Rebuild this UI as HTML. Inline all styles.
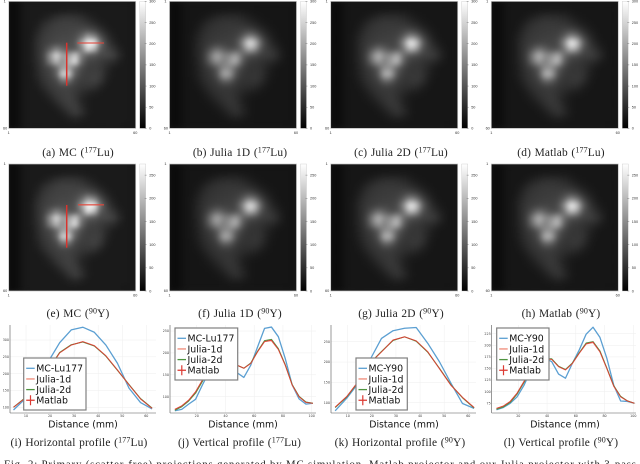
<!DOCTYPE html>
<html lang="en">
<head>
<meta charset="utf-8">
<title>Projection figure</title>
<style>
html,body{margin:0;padding:0;background:#fff;}
body{width:640px;height:464px;overflow:hidden;position:relative;}
#stage{position:absolute;left:0;top:0;width:640px;height:464px;filter:blur(0.3px);}
svg{position:absolute;left:0;top:0;}
.cap{position:absolute;font-family:"Liberation Serif",serif;font-size:11.4px;line-height:12px;color:#222;white-space:nowrap;transform:translateX(-50%);letter-spacing:.15px;word-spacing:.6px;}
.cap sup{font-size:8px;vertical-align:3.5px;line-height:0;}
</style>
</head>
<body>
<div id="stage">
<svg id="fig" width="640" height="464" viewBox="0 0 640 464" xmlns="http://www.w3.org/2000/svg"></svg>
<div class="cap" style="left:78px;top:147px">(a) MC (<sup>177</sup>Lu)</div>
<div class="cap" style="left:240px;top:147px">(b) Julia 1D (<sup>177</sup>Lu)</div>
<div class="cap" style="left:401px;top:147px">(c) Julia 2D (<sup>177</sup>Lu)</div>
<div class="cap" style="left:561px;top:147px">(d) Matlab (<sup>177</sup>Lu)</div>
<div class="cap" style="left:78px;top:308px">(e) MC (<sup>90</sup>Y)</div>
<div class="cap" style="left:240px;top:308px">(f) Julia 1D (<sup>90</sup>Y)</div>
<div class="cap" style="left:401px;top:308px">(g) Julia 2D (<sup>90</sup>Y)</div>
<div class="cap" style="left:561px;top:308px">(h) Matlab (<sup>90</sup>Y)</div>
<div class="cap" style="left:79px;top:437px">(i) Horizontal profile (<sup>177</sup>Lu)</div>
<div class="cap" style="left:239.5px;top:437px">(j) Vertical profile (<sup>177</sup>Lu)</div>
<div class="cap" style="left:400px;top:437px">(k) Horizontal profile (<sup>90</sup>Y)</div>
<div class="cap" style="left:561px;top:437px">(l) Vertical profile (<sup>90</sup>Y)</div>
</div>
<script>
// ---- projection image data (coarse 20x20 reading of the picture, counts) ----
const projectionCells = [
[12,18,28,30,30,30,30,30,30,30,30,30,30,30,30,30,30,30,30,28],
[12,18,28,30,30,30,30,32,34,35,35,34,32,30,30,30,30,30,30,28],
[12,18,28,30,30,34,44,54,60,62,60,54,44,35,31,30,30,30,30,28],
[12,18,28,30,34,50,64,72,75,76,74,70,62,50,38,32,30,30,30,28],
[12,18,28,30,42,62,72,76,78,80,82,88,92,80,58,40,32,30,30,28],
[12,18,28,32,50,68,76,80,82,84,90,120,180,155,90,56,36,30,30,28],
[12,18,28,34,55,72,80,86,88,88,100,190,345,290,130,72,46,32,30,28],
[12,18,28,34,55,76,110,150,125,100,105,150,265,220,105,82,62,40,30,28],
[12,18,28,34,55,82,170,255,190,190,240,145,110,100,85,85,75,48,30,28],
[12,18,28,34,52,78,150,215,165,215,265,125,80,76,68,60,52,36,30,28],
[12,18,28,32,48,70,85,120,190,190,130,88,72,72,66,48,34,30,30,28],
[12,18,28,32,46,66,78,110,255,240,110,78,72,76,68,44,32,30,30,28],
[12,18,28,30,40,60,72,85,140,130,84,70,72,76,62,38,30,30,30,28],
[12,18,28,30,34,50,66,74,80,80,72,64,62,58,42,32,30,30,30,28],
[12,18,28,30,30,38,54,68,74,76,66,52,42,36,32,30,30,30,30,28],
[12,18,28,30,30,32,40,56,70,76,66,44,34,30,30,30,30,30,30,28],
[12,18,28,30,30,30,32,40,58,72,72,50,34,30,30,30,30,30,30,28],
[12,18,28,30,30,30,30,32,40,58,70,56,36,30,30,30,30,30,30,28],
[12,18,28,30,30,30,30,30,32,38,44,38,32,30,30,30,30,30,30,28],
[12,18,28,30,30,30,30,30,30,30,30,30,30,30,30,30,30,30,28,28]
];
const panelKeys = ['a','b','c','d','e','f','g','h'];
const panelIntensity = [1.0,0.84,0.88,0.88,1.0,0.84,0.88,0.88];
const panelSmoothing = [2.6,3.4,3.2,3.2,2.6,3.4,3.2,3.2];
const colorbarTicksTop = [0,50,100,150,200,250,300];
const colorbarTicksBottom = [0,50,100,150,200,250];
const imageAxisLabels = ['1','60'];

// ---- profile data ----
const horizontalDistance = [4.8,9.6,14.4,19.2,24,28.8,33.6,38.4,43.2,48,52.8,57.6,62.4];
const verticalDistance = [4.8,9.6,14.4,19.2,24,28.8,33.6,38.4,43.2,48,52.8,57.6,62.4,67.2,72,76.8,81.6,86.4,91.2,96,100.8];

const luHorizontalMC = [92,125,175,235,292,330,338,323,285,231,157,114,95];
const luHorizontalJ1 = [100,127,165,210,262,285,295,283,253,211,167,125,97];
const luHorizontalJ2 = [100,128,166,212,263,286,294,282,252,210,168,126,98];
const luHorizontalML = [100,127,165,211,262,285,295,283,253,211,167,125,97];

const luVerticalMC = [68,71,83,94,127,158,190,195,170,155,144,172,214,256,259,237,187,127,95,83,85];
const luVerticalJ1 = [71,79,92,111,138,163,180,185,176,172,165,176,203,226,228,208,172,127,100,87,85];
const luVerticalJ2 = [69,77,90,108,135,161,179,186,177,172,165,177,204,228,231,210,173,128,101,88,85];
const luVerticalML = [71,79,92,111,138,163,180,185,176,172,165,176,203,226,229,208,172,127,100,87,85];

const yHorizontalMC = [80,111,148,205,258,277,283,285,246,201,148,98,86];
const yHorizontalJ1 = [89,115,152,197,225,254,262,252,225,184,143,113,88];
const yHorizontalJ2 = [88,114,151,197,226,253,262,251,224,185,144,112,87];
const yHorizontalML = [89,115,152,197,225,254,262,252,225,184,143,113,88];

const yVerticalMC = [61,66,75,89,114,147,168,172,165,138,129,161,190,224,239,217,172,114,80,79,75];
const yVerticalJ1 = [64,69,79,97,122,147,167,170,170,154,147,161,183,203,206,186,150,112,89,80,75];
const yVerticalJ2 = [62,67,77,95,120,145,166,171,171,155,148,162,184,205,208,188,151,113,90,80,75];
const yVerticalML = [64,69,79,97,122,147,167,170,170,154,147,161,183,203,207,186,150,112,89,80,75];

const horizontalTicksX = [10,20,30,40,50,60];
const verticalTicksX = [20,40,60,80,100];
const luHorizontalTicksY = [100,150,200,250,300];
const luVerticalTicksY = [100,150,200,250];
const yHorizontalTicksY = [100,150,200,250];
const yVerticalTicksY = [75,100,125,150,175,200,225];
const legendLabelsLu = ['MC-Lu177','Julia-1d','Julia-2d','Matlab'];
const legendLabelsY = ['MC-Y90','Julia-1d','Julia-2d','Matlab'];
const xAxisTitle = 'Distance (mm)';
const figureCaption = 'Fig. 2: Primary (scatter-free) projections generated by MC simulation, Matlab projector and our Julia projector with 3-pass';

const NS = 'http://www.w3.org/2000/svg';
const fig = document.getElementById('fig');
function mk(tag, attrs, parent, text) {
  const el = document.createElementNS(NS, tag);
  for (const k in attrs) el.setAttribute(k, attrs[k]);
  if (text !== undefined) el.textContent = text;
  (parent || fig).appendChild(el);
  return el;
}
function linear(d0, d1, r0, r1) {
  return function (v) { return r0 + (v - d0) * (r1 - r0) / (d1 - d0); };
}
const defs = mk('defs', {});
const grad = mk('linearGradient', {id:'cbar', x1:0, y1:0, x2:0, y2:1}, defs);
mk('stop', {offset:0, 'stop-color':'#fff'}, grad);
mk('stop', {offset:1, 'stop-color':'#000'}, grad);

// ---- projection panels ----
const panelLefts = [8.7,169.5,330.7,491.3];
const rowTops = [1.4,164];
const PANEL = 127;
const rowScaleMax = [300,274];
function drawPanel(i) {
  const col = i % 4, row = Math.floor(i / 4);
  const x0 = panelLefts[col], y0 = rowTops[row];
  const g = mk('g', {});
  
  
  const fid = 'blur' + i, cid = 'clip' + i;
  const f = mk('filter', {id:fid, x:'-10%', y:'-10%', width:'120%', height:'120%', 'color-interpolation-filters':'sRGB'}, defs);
  mk('feGaussianBlur', {stdDeviation:panelSmoothing[i]}, f);
  const c = mk('clipPath', {id:cid}, defs);
  mk('rect', {x:x0, y:y0, width:PANEL, height:PANEL}, c);
  mk('rect', {x:x0, y:y0, width:PANEL, height:PANEL, fill:'#1a1a1a'}, g);
  const clip = mk('g', {'clip-path':'url(#' + cid + ')'}, g);
  const cells = mk('g', {filter:'url(#' + fid + ')'}, clip);
  const n = projectionCells.length, cs = PANEL / n;
  const sx = linear(0, n, x0, x0 + PANEL), sy = linear(0, n, y0, y0 + PANEL);
  projectionCells.forEach(function (rowVals, r) {
    rowVals.forEach(function (v, k) {
      const level = Math.min(255, Math.round(v * panelIntensity[i] / 300 * 255));
      const cell = mk('rect', {x:sx(k) - 0.1, y:sy(r) - 0.1, width:cs + 0.2, height:cs + 0.2, fill:'rgb(' + level + ',' + level + ',' + level + ')'}, cells);
      
      
    });
  });
  const frame = mk('rect', {x:x0, y:y0, width:PANEL, height:PANEL, fill:'none', stroke:'#c4c4c4', 'stroke-width':0.7}, g);
  
  
  const tx = {'font-family':'"Liberation Sans",sans-serif', 'font-size':3.8, fill:'#333'};
  [[x0 - 3, y0 + 1.2, imageAxisLabels[0], 'end'], [x0 - 1.5, y0 + PANEL + 1.2, imageAxisLabels[1], 'end'],
   [x0, y0 + PANEL + 5.5, imageAxisLabels[0], 'middle'], [x0 + PANEL - 0.5, y0 + PANEL + 5.5, imageAxisLabels[1], 'middle']].forEach(function (t) {
    const lab = mk('text', Object.assign({x:t[0], y:t[1], 'text-anchor':t[3]}, tx), g, t[2]);
    
    
  });
  // colorbar
  const bx = x0 + PANEL + 4;
  const bar = mk('rect', {x:bx, y:y0, width:6, height:PANEL, fill:'url(#cbar)', stroke:'#c8c8c8', 'stroke-width':0.4}, g);
  
  
  const ticks = row === 0 ? colorbarTicksTop : colorbarTicksBottom;
  const sc = linear(0, rowScaleMax[row], y0 + PANEL, y0);
  ticks.forEach(function (t) {
    const tick = mk('line', {x1:bx + 5, x2:bx + 7, y1:sc(t), y2:sc(t), stroke:'#555', 'stroke-width':0.35}, g);
    
    
    const lab = mk('text', Object.assign({x:bx + 9.5, y:sc(t) + 1.3}, tx), g, t);
    
    
  });
}
panelKeys.forEach(function (k, i) { drawPanel(i); });

// red profile markers on the MC panels
[[66.7,42.7,66.7,85.7,104,43,77.3],[66.7,205,66.7,247.7,104,204.8,78]].forEach(function (m, i) {
  const v = mk('line', {x1:m[0], y1:m[1], x2:m[2], y2:m[3], stroke:'#d8342e', 'stroke-width':1.5});
  
  
  const h = mk('line', {x1:m[6], y1:m[5], x2:m[4], y2:m[5], stroke:'#e2453a', 'stroke-opacity':0.85, 'stroke-width':1.3});
  
  
});

// ---- profile charts ----
const seriesColors = ['#5b9fd2','#f08a78','#4f9440','#dc3b33'];
const seriesWidths = [1.3,1.2,1.0,0.8];
function drawChart(cfg) {
  const g = mk('g', {});
  
  
  const x = linear(cfg.xDom[0], cfg.xDom[1], cfg.xRange[0], cfg.xRange[1]);
  const y = linear(cfg.yDom[0], cfg.yDom[1], cfg.yRange[0], cfg.yRange[1]);
  const T = 325, B = 413;
  const tx = {'font-family':'"DejaVu Sans",sans-serif', 'font-size':3.3, fill:'#444'};
  cfg.xTicks.forEach(function (t) {
    const gl = mk('line', {x1:x(t), x2:x(t), y1:T, y2:B, stroke:'#eeeeee', 'stroke-width':0.5}, g);
    
    
    const lab = mk('text', Object.assign({x:x(t), y:B + 4, 'text-anchor':'middle'}, tx), g, t);
    
    
  });
  cfg.yTicks.forEach(function (t) {
    const gl = mk('line', {x1:cfg.left, x2:cfg.right, y1:y(t), y2:y(t), stroke:'#eeeeee', 'stroke-width':0.5}, g);
    
    
    const lab = mk('text', Object.assign({x:cfg.left - 1, y:y(t) + 1.1, 'text-anchor':'end'}, tx), g, t);
    
    
  });
  const ya = mk('line', {x1:cfg.left, x2:cfg.left, y1:T, y2:B, stroke:'#555', 'stroke-width':0.6}, g);
  
  
  const xa = mk('line', {x1:cfg.left, x2:cfg.right, y1:B, y2:B, stroke:'#555', 'stroke-width':0.6}, g);
  
  
  cfg.series.forEach(function (vals, s) {
    const d = vals.map(function (v, i) { return x(cfg.dist[i]).toFixed(2) + ',' + y(v).toFixed(2); }).join(' ');
    const pl = mk('polyline', {points:d, fill:'none', stroke:seriesColors[s], 'stroke-width':seriesWidths[s], 'stroke-linejoin':'round'}, g);
    
    
  });
  const title = mk('text', {x:cfg.titleX, y:427.5, 'text-anchor':'middle', 'font-family':'"DejaVu Sans",sans-serif', 'font-size':9.4, fill:'#111'}, g, xAxisTitle);
  
  
  // legend
  const L = cfg.legend;
  const lg = mk('g', {}, g);
  
  
  mk('rect', {x:L[0], y:L[1], width:L[2], height:52, fill:'#fff', stroke:'#808080', 'stroke-width':1.2}, lg);
  cfg.labels.forEach(function (name, s) {
    const ly = L[1] + 10.3 + s * 10.65;
    const sw = mk('line', {x1:L[0] + 2.5, x2:L[0] + 11, y1:ly, y2:ly, stroke:seriesColors[s], 'stroke-width':1.3}, lg);
    
    
    if (s === 3) {
      const cross = mk('line', {x1:L[0] + 6.8, x2:L[0] + 6.8, y1:ly - 5, y2:ly + 5, stroke:seriesColors[s], 'stroke-width':1.2}, lg);
      
      
    }
    const lab = mk('text', {x:L[0] + 12.5, y:ly + 3.3, 'font-family':'"DejaVu Sans",sans-serif', 'font-size':9.4, fill:'#111'}, lg, name);
    
    
  });
}
drawChart({name:'horizontal-profile-lu177', left:10, right:156, xDom:[10,60], xRange:[26,146.3], yDom:[100,300], yRange:[407.3,340], xTicks:horizontalTicksX, yTicks:luHorizontalTicksY, dist:horizontalDistance, series:[luHorizontalMC,luHorizontalJ1,luHorizontalJ2,luHorizontalML], labels:legendLabelsLu, legend:[23.7,358,62.3], titleX:83});
drawChart({name:'vertical-profile-lu177', left:170, right:316, xDom:[20,100], xRange:[196.7,311.7], yDom:[100,250], yRange:[396.7,331], xTicks:verticalTicksX, yTicks:luVerticalTicksY, dist:verticalDistance, series:[luVerticalMC,luVerticalJ1,luVerticalJ2,luVerticalML], labels:legendLabelsLu, legend:[175,328,62.7], titleX:243});
drawChart({name:'horizontal-profile-y90', left:331, right:476, xDom:[10,60], xRange:[347.7,468.3], yDom:[100,250], yRange:[402.7,341.7], xTicks:horizontalTicksX, yTicks:yHorizontalTicksY, dist:horizontalDistance, series:[yHorizontalMC,yHorizontalJ1,yHorizontalJ2,yHorizontalML], labels:legendLabelsY, legend:[356,358,51.3], titleX:404});
drawChart({name:'vertical-profile-y90', left:491.7, right:636, xDom:[20,100], xRange:[518.3,633.3], yDom:[75,225], yRange:[403.3,333.7], xTicks:verticalTicksX, yTicks:yVerticalTicksY, dist:verticalDistance, series:[yVerticalMC,yVerticalJ1,yVerticalJ2,yVerticalML], labels:legendLabelsY, legend:[496.7,328,52.3], titleX:565});

const figCap = mk('text', {x:4, y:467.5, textLength:632, lengthAdjust:'spacing', 'font-family':'"Liberation Serif",serif', 'font-size':10.8, fill:'#222'}, fig, figureCaption);


</script>
</body>
</html>
